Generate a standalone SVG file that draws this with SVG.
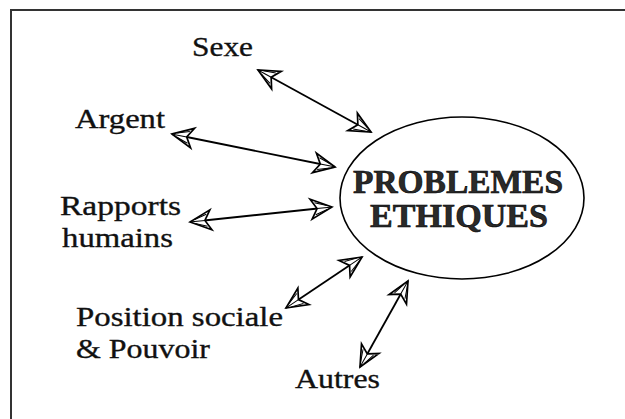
<svg xmlns="http://www.w3.org/2000/svg" width="625" height="419" viewBox="0 0 625 419">
<style>
.lbl{font-family:"Liberation Serif","Times New Roman",serif;font-size:28px;fill:#111;stroke:#111;stroke-width:0.35}
.title{font-family:"Liberation Serif","Times New Roman",serif;font-size:34px;font-weight:bold;fill:#2a2a2a;stroke:#000;stroke-width:0.6;text-anchor:middle}
.conn{stroke:#000;stroke-width:1.8;fill:none;marker-start:url(#ah);marker-end:url(#ah)}
.frame{stroke:#333;stroke-width:2;fill:none}
</style>
<defs>
<marker id="ah" markerUnits="userSpaceOnUse" viewBox="-24 -13 28 26" refX="0" refY="0" markerWidth="28" markerHeight="26" orient="auto-start-reverse">
<path d="M0,0 L-21,-10 L-15,0 L-21,10 Z" fill="#fff" stroke="#000" stroke-width="1.7" stroke-linejoin="miter"/>
<path d="M-2,0 L-15,0 M-5,-2 L-17,-6 M-5,2 L-17,6" stroke="#000" stroke-width="1"/>
</marker>
</defs>
<path class="frame" d="M11,419 L11,10 L625,10"/>
<g id="connectors">
<line class="conn" x1="258" y1="70" x2="371" y2="132"/>
<line class="conn" x1="172" y1="134" x2="335" y2="167"/>
<line class="conn" x1="190" y1="222" x2="332" y2="207"/>
<line class="conn" x1="286" y1="308" x2="362" y2="257"/>
<line class="conn" x1="360" y1="367" x2="408" y2="281"/>
</g>
<g id="center">
<ellipse cx="462" cy="198" rx="122" ry="81" fill="#fff" stroke="#000" stroke-width="1.6"/>
<text class="title" x="458" y="193" textLength="210" lengthAdjust="spacingAndGlyphs">PROBLEMES</text>
<text class="title" x="459" y="227" textLength="178" lengthAdjust="spacingAndGlyphs">ETHIQUES</text>
</g>
<g id="sexe"><text class="lbl" x="192" y="56" textLength="61" lengthAdjust="spacingAndGlyphs">Sexe</text></g>
<g id="argent"><text class="lbl" x="75" y="128" textLength="90" lengthAdjust="spacingAndGlyphs">Argent</text></g>
<g id="rapports">
<text class="lbl" x="60" y="215" textLength="121" lengthAdjust="spacingAndGlyphs">Rapports</text>
<text class="lbl" x="62" y="247" textLength="111" lengthAdjust="spacingAndGlyphs">humains</text>
</g>
<g id="position">
<text class="lbl" x="76" y="326" textLength="207" lengthAdjust="spacingAndGlyphs">Position sociale</text>
<text class="lbl" x="76" y="358" textLength="134" lengthAdjust="spacingAndGlyphs">&amp; Pouvoir</text>
</g>
<g id="autres"><text class="lbl" x="295" y="388" textLength="85" lengthAdjust="spacingAndGlyphs">Autres</text></g>
</svg>
